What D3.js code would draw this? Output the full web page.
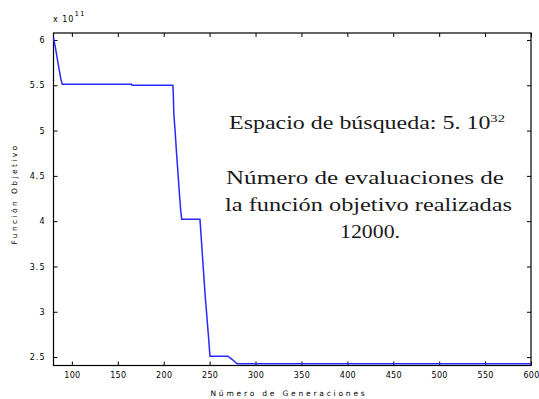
<!DOCTYPE html>
<html>
<head>
<meta charset="utf-8">
<script src="https://cdn.jsdelivr.net/npm/d3@7"></script>
<style>
body { margin: 0; background: #fff; }
.tick text { font-family: "DejaVu Sans", sans-serif; font-size: 8px; letter-spacing: 1px; fill: #000; }
.axis--x .tick text { letter-spacing: 0.3px; }
.note { font-family: "Liberation Serif", serif; font-size: 18px; fill: #1a1a1a; }
</style>
</head>
<body>
<script>
// generaciones / valor de la funcion objetivo (x 1e11)
var generations = [80, 82, 84, 86, 88, 89.5, 165, 165.5, 210, 210.5, 211, 212.6, 214, 215.5, 217, 218.5, 219.6, 239.5, 241, 243, 245, 247, 249, 250.4, 270, 275, 280, 600];
var objective   = [6.02, 5.92, 5.80, 5.68, 5.57, 5.51, 5.51, 5.50, 5.50, 5.40, 5.19, 4.97, 4.75, 4.54, 4.32, 4.12, 4.02, 4.02, 3.80, 3.50, 3.20, 2.95, 2.70, 2.51, 2.51, 2.47, 2.425, 2.425];
var xTicks = [100, 150, 200, 250, 300, 350, 400, 450, 500, 550, 600];
var yTicks = [2.5, 3, 3.5, 4, 4.5, 5, 5.5, 6];
var noteLines = ["Número de evaluaciones de", "la función objetivo realizadas", "12000."];

var width = 539, height = 399;
var margin = {top: 33, right: 8, bottom: 33.5, left: 53.5};
var w = width - margin.left - margin.right,
    h = height - margin.top - margin.bottom;

var svg = d3.select("body").append("svg")
    .attr("width", width)
    .attr("height", height);

var x = d3.scaleLinear().domain([80, 600]).range([0, w]);
var y = d3.scaleLinear().domain([2.407, 6.077]).range([h, 0]);

var g = svg.append("g")
    .attr("transform", "translate(" + margin.left + "," + margin.top + ")");

g.append("g")
    .attr("class", "axis axis--x")
    .attr("transform", "translate(0," + h + ")")
    .call(d3.axisBottom(x).tickValues(xTicks).tickSize(-4).tickPadding(7).tickFormat(d3.format("d")))
    .call(function(a) { a.select(".domain").remove(); });

g.append("g")
    .call(d3.axisTop(x).tickValues(xTicks).tickSize(-4).tickFormat(""))
    .call(function(a) { a.select(".domain").remove(); });

g.append("g")
    .attr("class", "axis axis--y")
    .call(d3.axisLeft(y).tickValues(yTicks).tickSize(-4).tickPadding(8).tickFormat(function(d) { return String(d); }))
    .call(function(a) { a.select(".domain").remove(); });

g.append("g")
    .attr("transform", "translate(" + w + ",0)")
    .call(d3.axisRight(y).tickValues(yTicks).tickSize(-4).tickFormat(""))
    .call(function(a) { a.select(".domain").remove(); });

g.selectAll(".tick line").attr("stroke", "#000");

g.append("rect")
    .attr("width", w)
    .attr("height", h)
    .attr("fill", "none")
    .attr("stroke", "#000")
    .attr("stroke-width", 1.2);

var data = generations.map(function(d, i) { return [d, objective[i]]; });

g.append("path")
    .datum(data)
    .attr("fill", "none")
    .attr("stroke", "#2828ff")
    .attr("stroke-width", 1.5)
    .attr("d", d3.line().x(function(d) { return x(d[0]); }).y(function(d) { return y(d[1]); }));

// exponent
var ex = svg.append("text")
    .attr("x", 53)
    .attr("y", 22)
    .style("font-family", "DejaVu Sans, sans-serif")
    .style("font-size", "8px")
    .style("letter-spacing", "1px");
ex.append("tspan").text("x  10");
ex.append("tspan").attr("dy", -6).style("font-size", "7px").text("11");

// axis labels
svg.append("text")
    .attr("x", 289)
    .attr("y", 396)
    .attr("text-anchor", "middle")
    .style("font-family", "DejaVu Sans, sans-serif")
    .style("font-size", "7.5px")
    .style("letter-spacing", "2.8px")
    .text("Número de Generaciones");

svg.append("text")
    .attr("transform", "translate(17,194) rotate(-90)")
    .attr("text-anchor", "middle")
    .style("font-family", "DejaVu Sans, sans-serif")
    .style("font-size", "7.5px")
    .style("letter-spacing", "2.4px")
    .text("Función Objetivo");

// annotation
var t1 = svg.append("text")
    .attr("class", "note")
    .attr("x", 367)
    .attr("y", 129)
    .attr("text-anchor", "middle")
    .attr("textLength", 276)
    .attr("lengthAdjust", "spacingAndGlyphs");
t1.append("tspan").text("Espacio de búsqueda: 5. 10");
t1.append("tspan").attr("dy", -7).style("font-size", "11px").text("32");

var lineCenters = [365, 368.5, 370];
var lineWidths = [278, 287, 60];

svg.selectAll(".noteline")
    .data(noteLines)
    .enter().append("text")
    .attr("class", "note")
    .attr("x", function(d, i) { return lineCenters[i]; })
    .attr("y", function(d, i) { return 184 + i * 27; })
    .attr("text-anchor", "middle")
    .attr("textLength", function(d, i) { return lineWidths[i]; })
    .attr("lengthAdjust", "spacingAndGlyphs")
    .text(function(d) { return d; });
</script>
</body>
</html>
